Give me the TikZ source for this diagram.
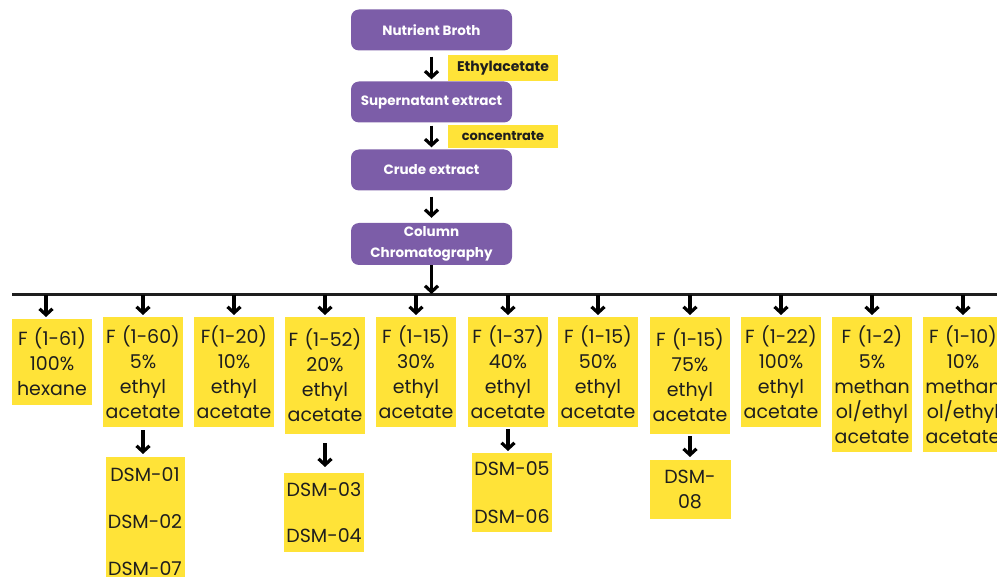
\documentclass[tikz,border=0pt]{standalone}
\usepackage{fontspec}
\setmainfont{Poppins}
\usetikzlibrary{arrows.meta}
\definecolor{purp}{HTML}{7C5DA8}
\definecolor{yel}{HTML}{FFE338}
\definecolor{ink}{HTML}{1E1E1E}
\tikzset{
  pbox/.style={fill=purp, rounded corners=8pt, minimum width=161pt, minimum height=41pt, inner sep=2pt, text=white, align=center, font=\fontsize{13.5}{21}\selectfont\bfseries},
  lbox/.style={fill=yel, minimum width=110pt, inner sep=0pt, text=ink, font=\fontsize{14}{16}\selectfont\bfseries},
  ybox/.style={fill=yel, minimum width=80pt, text width=80pt, inner sep=0pt, align=center, text=ink, anchor=north, font=\fontsize{19}{25}\selectfont},
  arr/.style={draw=black, line width=3.2pt, -{Straight Barb[length=6pt,width=13pt]}},
  bar/.style={draw=ink, line width=3pt}
}
\begin{document}
\begin{tikzpicture}[x=1pt,y=-1pt]
\useasboundingbox (0,0) rectangle (997,577);
\clip (0,0) rectangle (997,577);
% purple chain
\node[pbox] (nb) at (431.5,30) {Nutrient Broth};
\node[pbox] (se) at (431.5,102) {Supernatant extract};
\node[pbox] (ce) at (431.5,170) {Crude extract};
\node[pbox, minimum height=42pt] (cc) at (431.5,244) {Column\\Chromatography};
\node[lbox, minimum height=26pt] (l1) at (503,68) {Ethylacetate};
\node[lbox, minimum height=23pt, font=\fontsize{13}{14}\selectfont\bfseries] (l2) at (503,136.5) {concentrate};
\draw[arr, shorten <=6pt, shorten >=2pt] (nb) -- (se);
\draw[arr, shorten <=3pt, shorten >=2pt] (se) -- (ce);
\draw[arr, shorten <=6pt, shorten >=5pt] (ce) -- (cc);
% bar
\coordinate (bl) at (12,295);
\coordinate (br) at (1000,295);
\draw[bar] (bl) -- (br);
\draw[arr, shorten >=1pt] (cc.south) -- (cc.south |- br);
% fractions
\node[ybox, minimum height=86pt] (f1) at (52,319) {F (1-61)\\100\%\\hexane};
\node[ybox, minimum height=110pt] (f2) at (143,317) {F (1-60)\\5\%\\ethyl\\acetate};
\node[ybox, minimum height=110pt] (f3) at (234,317) {F(1-20)\\10\%\\ethyl\\acetate};
\node[ybox, minimum height=117pt] (f4) at (325,317) {F (1-52)\\20\%\\ethyl\\acetate};
\node[ybox, minimum height=110pt] (f5) at (416,317) {F (1-15)\\30\%\\ethyl\\acetate};
\node[ybox, minimum height=110pt] (f6) at (508,317) {F (1-37)\\40\%\\ethyl\\acetate};
\node[ybox, minimum height=110pt] (f7) at (598,317) {F (1-15)\\50\%\\ethyl\\acetate};
\node[ybox, minimum height=117pt] (f8) at (690,317) {F (1-15)\\75\%\\ethyl\\acetate};
\node[ybox, minimum height=110pt] (f9) at (781,317) {F (1-22)\\100\%\\ethyl\\acetate};
\node[ybox, minimum height=135pt] (f10) at (872,317) {F (1-2)\\5\%\\methan\\ol/ethyl\\acetate};
\node[ybox, minimum height=135pt] (f11) at (963,317) {F (1-10)\\10\%\\methan\\ol/ethyl\\acetate};
\draw[arr, shorten >=2pt] ([xshift=-6pt]f1.north |- bl) -- ([xshift=-6pt]f1.north);
\foreach \n in {f2,f3,f4,f5,f6,f7,f8,f9,f10,f11}{
  \draw[arr, shorten >=2pt] (\n.north |- bl) -- (\n.north);
}
% DSM boxes
\node[ybox, minimum width=79pt, text width=79pt, minimum height=128pt] (da) at (145,457) {DSM-01\\[22pt]DSM-02\\[22pt]DSM-07};
\node[ybox, minimum height=79pt] (db) at (324,473) {DSM-03\\[21pt]DSM-04};
\node[ybox, minimum height=79pt] (dc) at (512,453) {DSM-05\\[23pt]DSM-06};
\node[ybox, minimum height=59pt, text width=81pt, minimum width=81pt] (dd) at (690,460) {DSM-\\08};
\draw[arr, shorten <=3pt, shorten >=3pt] (f2.south) -- (f2.south |- da.north);
\draw[arr, shorten <=9pt, shorten >=6pt] (f4.south) -- (f4.south |- db.north);
\draw[arr, shorten <=2pt, shorten >=2pt] (f6.south) -- (f6.south |- dc.north);
\draw[arr, shorten <=2pt, shorten >=3pt] (f8.south) -- (f8.south |- dd.north);
\end{tikzpicture}
\end{document}
